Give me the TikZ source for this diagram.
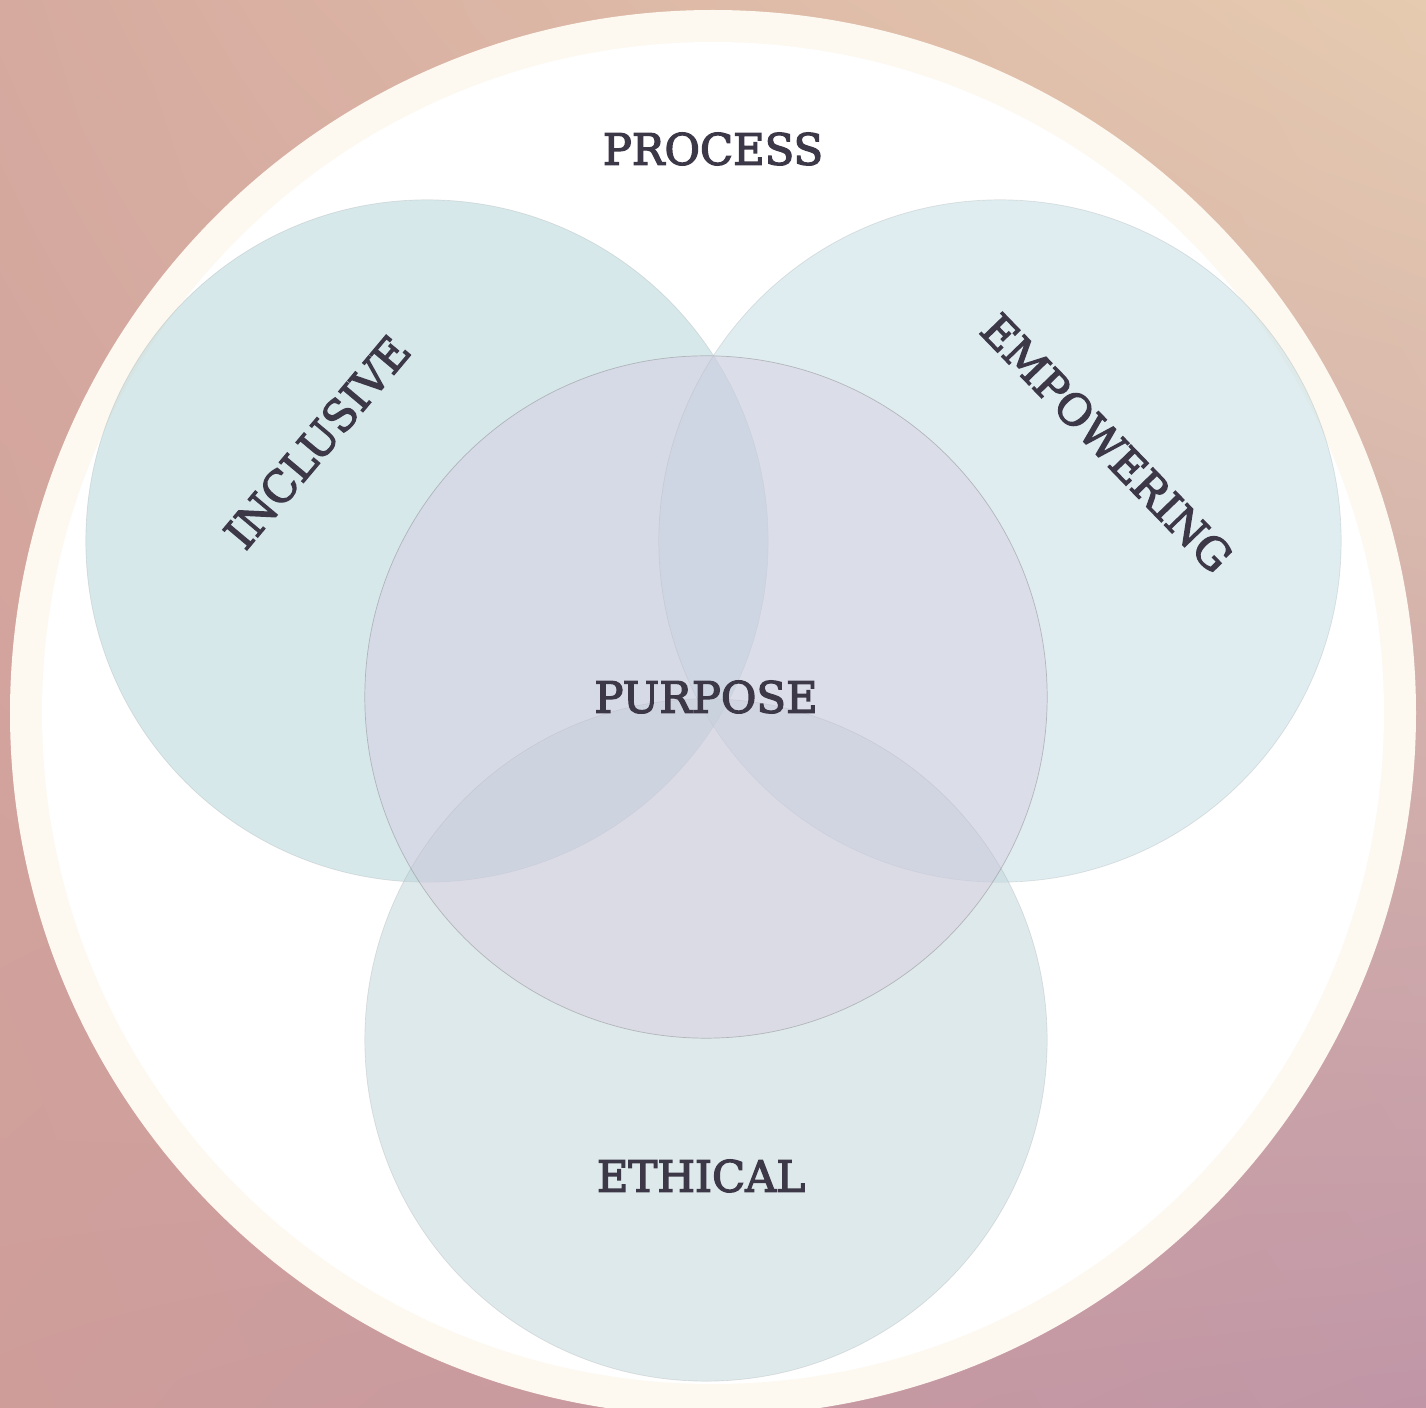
\documentclass[tikz,border=0pt]{standalone}
\usepackage{fontspec}
\setmainfont{DejaVu Serif}
\newfontfamily\labelfont{DejaVu Serif}[FakeBold=3]
\usetikzlibrary{calc,shadings}

\definecolor{ink}{HTML}{3D3848}
\definecolor{cream}{HTML}{FDF9F0}
\definecolor{tealA}{RGB}{177,211,217}
\definecolor{tealB}{RGB}{193,221,227}
\definecolor{tealC}{RGB}{191,213,217}
\definecolor{lilac}{RGB}{214,196,222}
\definecolor{bgtl}{HTML}{D6AA9F}
\definecolor{bgtr}{HTML}{E6CBB0}
\definecolor{bgbl}{HTML}{CE9D9A}
\definecolor{bgbr}{HTML}{C096A7}

\begin{document}
\begin{tikzpicture}[
  x=0.01cm,y=0.01cm,
  lobe/.style={circle,inner sep=0pt,minimum size=6.82cm,fill opacity=0.5,
               draw=gray,draw opacity=0.2,line width=0.2pt},
  core/.style={lobe,fill=lilac,fill opacity=0.37,draw opacity=0.45},
  word/.style={text=ink,inner sep=0pt,font=\labelfont\fontsize{12.3}{15}\selectfont}
]
\useasboundingbox (0,0) rectangle (1426,1408);
\clip (0,0) rectangle (1426,1408);

% ---- backdrop and frame ----
\shade[upper left=bgtl,upper right=bgtr,lower left=bgbl,lower right=bgbr]
  (0,0) rectangle (1426,1408);
\fill[cream] (713,695) circle[radius=703];
\fill[white] (713,695) circle[radius=671];

% ---- the three outer circles, then the core on top ----
\node[lobe,fill=tealA] (inclusive) at (427,867) {};
\node[lobe,fill=tealB] (empowering) at (1000,867) {};
\node[lobe,fill=tealC] (ethical) at (706,368) {};
\node[core] (purpose) at (706,711) {};

% ---- labels ----
\node[word] (processlbl) at (713,1259) {PROCESS};
\node[word] (purposelbl) at (purpose.center) {PURPOSE};
\node[word,rotate=50] (inclusivelbl) at (317,966) {INCLUSIVE};
\node[word,rotate=-46] (empoweringlbl) at (1107,965) {EMPOWERING};
\node[word] (ethicallbl) at (701,232) {ETHICAL};

\end{tikzpicture}
\end{document}
